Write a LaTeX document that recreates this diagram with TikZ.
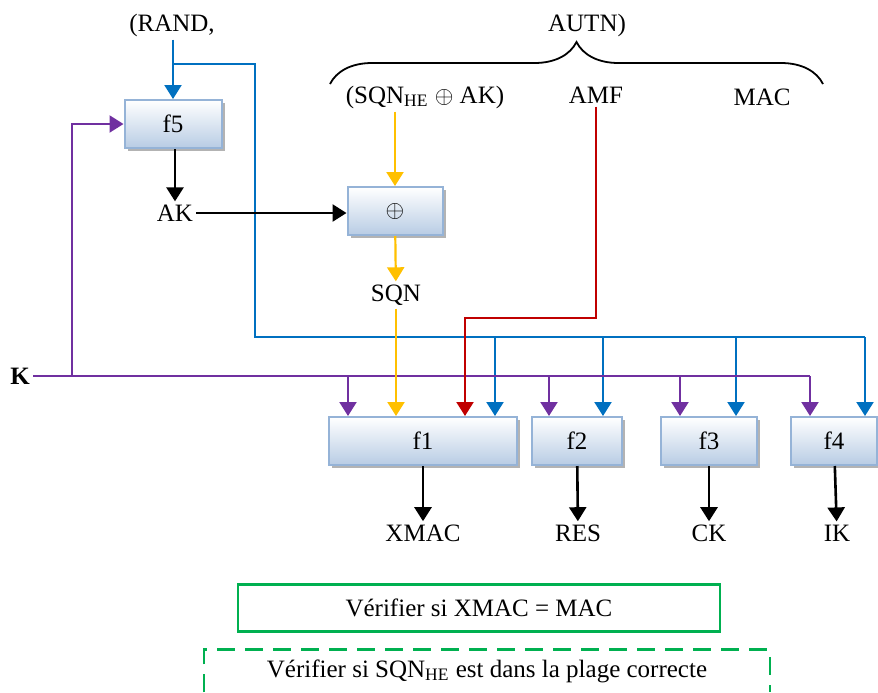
\documentclass[tikz,border=0pt]{standalone}
\usepackage{fontspec}
\setmainfont{Liberation Serif}
\usetikzlibrary{arrows.meta,shadows,decorations.pathreplacing}
\definecolor{keyc}{RGB}{112,48,160}
\definecolor{randc}{RGB}{0,112,192}
\definecolor{sqnc}{RGB}{255,192,0}
\definecolor{amfc}{RGB}{192,0,0}
\definecolor{chkc}{RGB}{0,176,80}
\definecolor{boxedge}{RGB}{149,179,215}
\definecolor{boxfill}{RGB}{184,204,228}

\begin{document}
\begin{tikzpicture}[x=0.5pt, y=-0.5pt, >={Triangle[width=8.5pt,length=7pt]},
  font=\fontsize{12.5}{15}\selectfont,
  fn/.style={draw=boxedge, line width=1pt, top color=white, bottom color=boxfill, minimum height=24pt, inner sep=0pt,
    drop shadow={shadow xshift=1.5pt, shadow yshift=-1.5pt, fill=black!50, opacity=0.6}},
  lbl/.style={inner sep=1.5pt},
  chk/.style={draw=chkc, line width=1.2pt, minimum width=241pt, minimum height=23.5pt},
  outarrow/.style={->, line width=1.3pt, draw=black},
  key/.style={line width=1.1pt, draw=keyc},
  rnd/.style={line width=1.1pt, draw=randc},
  sqn/.style={line width=1.1pt, draw=sqnc},
  amf/.style={line width=1.1pt, draw=amfc}
]
\useasboundingbox (0,0) rectangle (878,692);
% inputs
\node[lbl] (rand) at (172,25) {(RAND,};
\node[lbl] (autn) at (587,25) {AUTN)};
\coordinate (brl) at (330,84);
\coordinate (brr) at (823,84);
\draw[line width=0.9pt, decorate, decoration={brace, amplitude=21pt}] (brl) -- (brr);
\node[lbl] (sqnhe) at (425,97) {(SQN\textsubscript{HE} $\oplus$ AK)};
\node[lbl] (amfl) at (596,95) {AMF};
\node[lbl] (macl) at (762,97) {MAC};
\node[lbl, font=\fontsize{12.5}{15}\selectfont\bfseries] (k) at (20,376) {K};
% functions
\node[fn, minimum width=48.5pt] (f5) at (173,124) {f5};
\node[lbl] (ak) at (175,213) {AK};
\node[fn, minimum width=47.5pt] (xor) at (395,211) {$\oplus$};
\node[lbl] (sqnl) at (396,295) {SQN};
\node[fn, minimum width=94pt] (f1) at (423,441) {f1};
\node[fn, minimum width=45pt] (f2) at (577,441) {f2};
\node[fn, minimum width=48pt] (f3) at (709,441) {f3};
\node[fn, minimum width=43pt] (f4) at (834,441) {f4};
% outputs
\node[lbl] (xmac) at (423,533) {XMAC};
\node[lbl] (res) at (578,533) {RES};
\node[lbl] (ck) at (709,533) {CK};
\node[lbl] (ik) at (837,533) {IK};
% checks
\node[chk] (chk1) at (479,608) {Vérifier si XMAC = MAC};
\node[minimum width=282.5pt, minimum height=21pt] (chk2) at (487,671) {Vérifier si SQN\textsubscript{HE} est dans la plage correcte};
\draw[draw=chkc, line width=1.2pt, dash pattern=on 9pt off 5pt] (chk2.south west) -- (chk2.north west) -- (chk2.north east) -- (chk2.south east);
% RAND
\coordinate (bj) at (173,64);
\coordinate (bt) at (255,337);
\coordinate (b1) at (495,337);
\coordinate (b2) at (603,337);
\coordinate (b3) at (736,337);
\coordinate (b4) at (865,337);
\draw[rnd, ->] (rand.south -| f5) -- (f5);
\draw[rnd] (bj) -| (bt) -- (b4);
\foreach \f in {1,2,3,4}
  \draw[rnd, ->] (b\f) -- (b\f |- f\f.north);
% K
\coordinate (pj) at (72,376);
\coordinate (p1) at (348,376);
\coordinate (p2) at (549,376);
\coordinate (p3) at (680,376);
\coordinate (p4) at (810,376);
\draw[key] (k) -- (p4);
\draw[key, ->] (pj) |- (f5);
\foreach \f in {1,2,3,4}
  \draw[key, ->] (p\f) -- (p\f |- f\f.north);
% SQN
\draw[sqn, ->] (sqnhe.south -| xor) -- (xor);
\draw[sqn, ->] (xor) -- (sqnl);
\draw[sqn, ->] (sqnl) -- (sqnl |- f1.north);
% AMF
\coordinate (rj) at (465,318);
\draw[amf, ->] (amfl) |- (rj) -- (rj |- f1.north);
% AK
\draw[outarrow] (f5.south -| ak) -- (ak);
\draw[outarrow] (ak.east) -- (ak.east -| xor.west);
\draw[outarrow] (f1) -- (xmac);
\draw[outarrow] (f2) -- (res);
\draw[outarrow] (f3) -- (ck);
\draw[outarrow] (f4) -- (ik);
\end{tikzpicture}
\end{document}
